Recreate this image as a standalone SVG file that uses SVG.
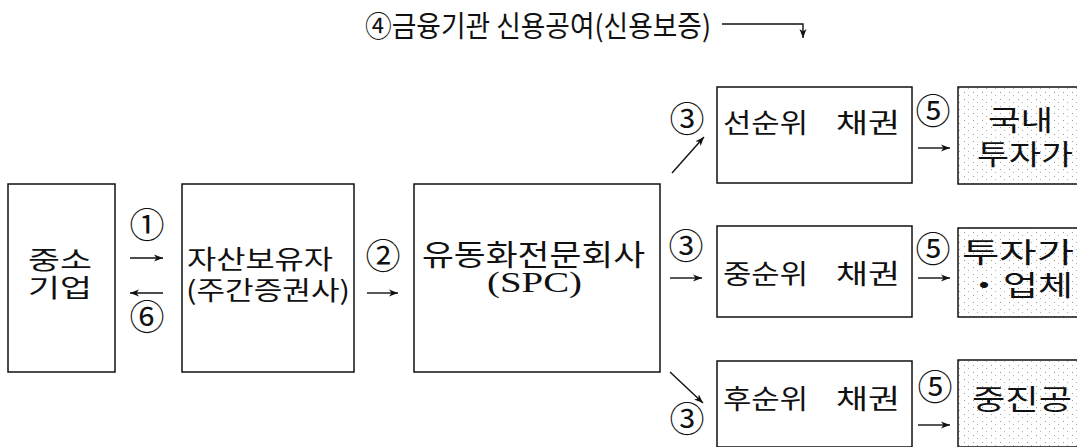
<svg xmlns="http://www.w3.org/2000/svg" width="1077" height="447" viewBox="0 0 1077 447">
<style>
.box{fill:#fff;stroke:#111;stroke-width:1.5}
.inv{fill:url(#stip);stroke:#111;stroke-width:1.5}
.kr{font-family:"Noto Sans CJK KR","Noto Sans",sans-serif;fill:#111}
.num{font-family:"Noto Sans CJK KR","DejaVu Sans",sans-serif;fill:#111;font-size:35px;text-anchor:middle}
.ser{font-family:"Liberation Serif","Noto Sans CJK KR",serif;fill:#111}
.ln{stroke:#111;stroke-width:1.4;fill:none}
</style>
<defs>
<pattern id="stip" width="9" height="7" patternUnits="userSpaceOnUse">
<rect width="9" height="7" fill="#fff"/>
<rect x="1" y="1" width="1" height="1" fill="#9a9a9a"/>
<rect x="5" y="4" width="1" height="1" fill="#b0b0b0"/>
</pattern>
<marker id="ah" markerWidth="10" markerHeight="8" refX="9" refY="4" orient="auto" markerUnits="userSpaceOnUse">
<path d="M0,0.5 L9,4 L0,7.5 L2.5,4 Z" fill="#111"/>
</marker>
</defs>

<text class="kr" x="365" y="37" font-size="29" textLength="346" lengthAdjust="spacingAndGlyphs">④금융기관 신용공여(신용보증)</text>

<g id="n-sme"><rect class="box" x="8" y="184" width="107" height="188"/>
<text class="kr" x="28" y="269" font-size="25" textLength="64" lengthAdjust="spacingAndGlyphs">중소</text>
<text class="kr" x="28" y="297" font-size="25" textLength="64" lengthAdjust="spacingAndGlyphs">기업</text></g>

<g id="n-holder"><rect class="box" x="182" y="184" width="172" height="188"/>
<text class="kr" x="187" y="269" font-size="26" textLength="146" lengthAdjust="spacingAndGlyphs">자산보유자</text>
<text class="kr" x="186" y="300" font-size="26" textLength="164" lengthAdjust="spacingAndGlyphs">(주간증권사)</text></g>

<g id="n-spc"><rect class="box" x="414" y="184" width="246" height="188"/>
<text class="kr" x="422" y="266" font-size="29" textLength="223" lengthAdjust="spacingAndGlyphs">유동화전문회사</text>
<text class="ser" x="487" y="292" font-size="30" textLength="95" lengthAdjust="spacingAndGlyphs">(SPC)</text></g>

<g id="n-senior"><rect class="box" x="717" y="87" width="195" height="96"/>
<text class="kr" font-size="27" lengthAdjust="spacingAndGlyphs"><tspan x="723" y="133" textLength="85" lengthAdjust="spacingAndGlyphs">선순위</tspan> <tspan x="836" y="133" textLength="64" lengthAdjust="spacingAndGlyphs">채권</tspan></text></g>
<g id="n-mezz"><rect class="box" x="717" y="226" width="195" height="91"/>
<text class="kr" font-size="27"><tspan x="723" y="284" textLength="85" lengthAdjust="spacingAndGlyphs">중순위</tspan> <tspan x="836" y="284" textLength="64" lengthAdjust="spacingAndGlyphs">채권</tspan></text></g>
<g id="n-junior"><rect class="box" x="717" y="361" width="195" height="86"/>
<text class="kr" font-size="27"><tspan x="723" y="409" textLength="85" lengthAdjust="spacingAndGlyphs">후순위</tspan> <tspan x="836" y="409" textLength="64" lengthAdjust="spacingAndGlyphs">채권</tspan></text></g>

<g id="n-inv1"><rect class="inv" x="958" y="87" width="125" height="97"/>
<text class="kr" x="988" y="131" font-size="28" textLength="65" lengthAdjust="spacingAndGlyphs">국내</text>
<text class="kr" x="977" y="165" font-size="28" textLength="96" lengthAdjust="spacingAndGlyphs">투자가</text></g>
<g id="n-inv2"><rect class="inv" x="958" y="228" width="125" height="89"/>
<text class="kr" x="962" y="263" font-size="28" textLength="112" lengthAdjust="spacingAndGlyphs">투자가</text>
<text class="kr" x="965" y="296" font-size="28" textLength="108" lengthAdjust="spacingAndGlyphs">・업체</text></g>
<g id="n-inv3"><rect class="inv" x="958" y="360" width="125" height="87"/>
<text class="kr" x="972" y="410" font-size="28" textLength="100" lengthAdjust="spacingAndGlyphs">중진공</text></g>

<g id="connectors">
<path class="ln" d="M722,24 H803 V38" marker-end="url(#ah)"/>
<path class="ln" d="M130,258 H163" marker-end="url(#ah)"/>
<path class="ln" d="M163,293 H130" marker-end="url(#ah)"/>
<path class="ln" d="M367,293 H398" marker-end="url(#ah)"/>
<path class="ln" d="M672,173 L704,137" marker-end="url(#ah)"/>
<path class="ln" d="M670,278 H702" marker-end="url(#ah)"/>
<path class="ln" d="M670,372 L703,403" marker-end="url(#ah)"/>
<path class="ln" d="M918,148 H950" marker-end="url(#ah)"/>
<path class="ln" d="M918,278 H950" marker-end="url(#ah)"/>
<path class="ln" d="M918,425 H950" marker-end="url(#ah)"/>
</g>

<g id="labels">
<text class="num" x="147" y="238">①</text>
<text class="num" x="147" y="330">⑥</text>
<text class="num" x="383" y="269">②</text>
<text class="num" x="687" y="132">③</text>
<text class="num" x="686" y="259">③</text>
<text class="num" x="687" y="432">③</text>
<text class="num" x="933" y="124">⑤</text>
<text class="num" x="933" y="262">⑤</text>
<text class="num" x="935" y="400">⑤</text>
</g>
</svg>
